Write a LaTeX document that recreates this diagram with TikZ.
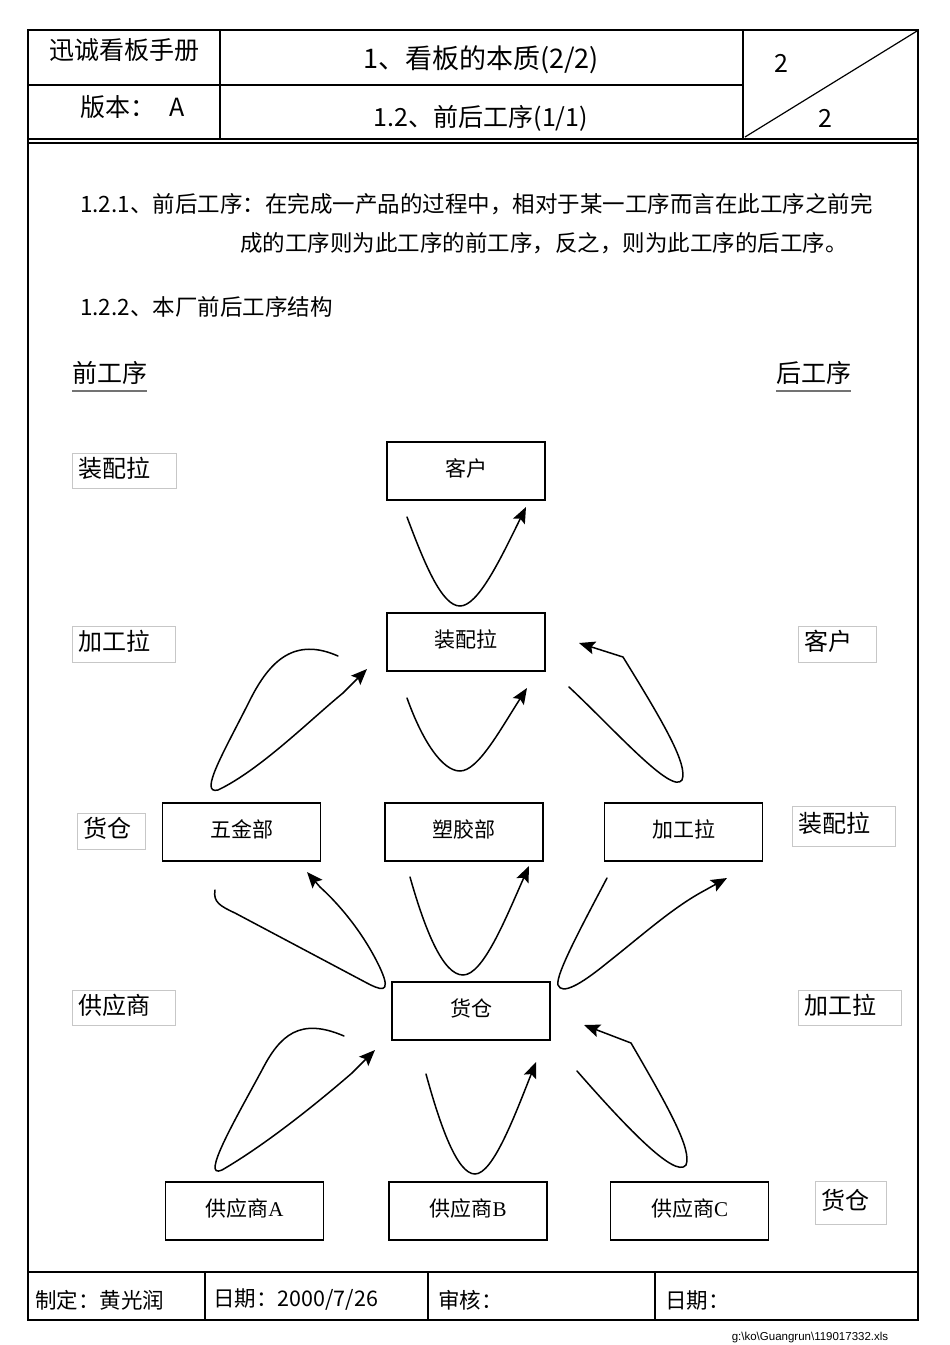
\documentclass[tikz,border=0pt]{standalone}
\usepackage{fontspec}
\setmainfont{Noto Sans CJK SC}
\newfontfamily\latinserif{Liberation Serif}
\newfontfamily\pathfont{Liberation Sans}
\usetikzlibrary{arrows.meta, positioning}

\tikzset{
  box/.style={rectangle, draw, line width=1.5pt, minimum width=158pt, minimum height=58pt, inner sep=0pt, text height=18pt, text depth=8pt, font=\fontsize{21}{21}\selectfont},
  side/.style={rectangle, draw=black!22, line width=0.8pt, anchor=north west, inner xsep=6pt, inner ysep=0pt, text height=21pt, text depth=8pt, align=left, font=\fontsize{24}{24}\selectfont},
  flow/.style={line width=1.5pt, line cap=round, -{Stealth[length=16pt,width=13pt,inset=3pt]}},
  frame/.style={line width=1.6pt},
  txt/.style={anchor=west, inner sep=0pt, font=\fontsize{22.5}{22.5}\selectfont},
  uline/.style={draw=black!55, line width=1.6pt}
}

\begin{document}
\begin{tikzpicture}[x=1pt, y=-1pt]
\useasboundingbox (0,0) rectangle (950,1345);

% form frame
\draw[frame] (28,30) rectangle (918,1320);
\draw[frame] (28,85) -- (743,85);
\draw[frame] (220,30) -- (220,139);
\draw[frame] (743,30) -- (743,139);
\draw[frame] (28,139) -- (918,139);
\draw[frame] (28,143) -- (918,143);
\draw[line width=1.2pt] (745,137) -- (917,31);
\draw[line width=2.6pt] (28,1272) -- (918,1272);
\draw[line width=2.6pt] (28,1320) -- (918,1320);
\foreach \x in {205,428,655}
  \draw[frame] (\x,1272) -- (\x,1320);

% header
\node[font=\fontsize{25}{25}\selectfont] (manual) at (124,50) {迅诚看板手册};
\node[font=\fontsize{27}{27}\selectfont] (title) at (481,60) {1、看板的本质(2/2)};
\node[txt, font=\fontsize{25}{25}\selectfont] (version) at (80,107) {版本：\hspace{14pt}A};
\node[font=\fontsize{25}{25}\selectfont] (subtitle) at (481,118) {1.2、前后工序(1/1)};
\node[font=\fontsize{25}{25}\selectfont] (page) at (781,63) {2};
\node[font=\fontsize{25}{25}\selectfont] (pages) at (825,118) {2};

% text
\node[txt] (def1) at (80,204) {1.2.1、前后工序：在完成一产品的过程中，相对于某一工序而言在此工序之前完};
\node[txt] (def2) at (240,243) {成的工序则为此工序的前工序，反之，则为此工序的后工序。};
\node[txt] (struct) at (80,307) {1.2.2、本厂前后工序结构};

\node[txt, font=\fontsize{25}{25}\selectfont] (pre) at (72,373) {前工序};
\node[txt, font=\fontsize{25}{25}\selectfont] (post) at (776,373) {后工序};
\draw[uline] ([yshift=-6pt]pre.south west) -- ([yshift=-6pt]pre.south east);
\draw[uline] ([yshift=-6pt]post.south west) -- ([yshift=-6pt]post.south east);

% side labels
\node[side, text width=92pt, minimum height=35pt] (pre1) at (72,453) {装配拉};
\node[side, text width=91pt, minimum height=36pt] (pre2) at (72,626) {加工拉};
\node[side, text width=56pt, minimum height=36pt] (pre3) at (77,813) {货仓};
\node[side, text width=91pt, minimum height=35pt] (pre4) at (72,990) {供应商};
\node[side, text width=66pt, minimum height=36pt] (post1) at (798,626) {客户};
\node[side, text width=91pt, minimum height=40pt] (post2) at (792,806) {装配拉};
\node[side, text width=91pt, minimum height=35pt] (post3) at (798,990) {加工拉};
\node[side, text width=59pt, minimum height=43pt] (post4) at (815,1181) {货仓};

% process boxes
\node[box] (kehu) at (466,471) {客户};
\node[box] (zpl) at (466,642) {装配拉};
\node[box] (sujiao) at (464,832) {塑胶部};
\node[box, left=63pt of sujiao] (wujin) {五金部};
\node[box, right=60pt of sujiao] (jgl) {加工拉};
\node[box] (cang) at (471,1011) {货仓};
\node[box] (gysB) at (468,1211) {供应商{\latinserif B}};
\node[box, left=64pt of gysB] (gysA) {供应商{\latinserif A}};
\node[box, right=62pt of gysB] (gysC) {供应商{\latinserif C}};

% curve ends
\coordinate (zpl-up) at (407,517);   \coordinate (kehu-in) at (526,507);
\coordinate (sj-up) at (407,698);    \coordinate (zpl-in1) at (527,688);
\coordinate (wj-up) at (338,656);    \coordinate (zpl-in2) at (367,669);
\coordinate (jg-up) at (569,687);    \coordinate (zpl-in3) at (579,643);
\coordinate (cang-up1) at (215,890); \coordinate (wj-in) at (307,872);
\coordinate (cang-up2) at (410,877); \coordinate (sj-in) at (529,866);
\coordinate (cang-up3) at (607,878); \coordinate (jg-in) at (727,878);
\coordinate (gA-up) at (344,1036);   \coordinate (cang-in1) at (375,1050);
\coordinate (gB-up) at (426,1074);   \coordinate (cang-in2) at (536,1062);
\coordinate (gC-up) at (577,1071);   \coordinate (cang-in3) at (584,1025);

% flows
\draw[flow] (zpl-up) .. controls (425,565) and (442,606) .. (460,606) .. controls (478,606) and (500,560) .. (kehu-in);
\draw[flow] (sj-up) .. controls (422,740) and (442,771) .. (460,771) .. controls (478,771) and (500,730) .. (zpl-in1);
\draw[flow] (wj-up) .. controls (295,637) and (270,660) .. (250,700) .. controls (225,750) and (198,795) .. (218,790) .. controls (260,770) and (310,720) .. (343,693) -- (zpl-in2);
\draw[flow] (jg-up) .. controls (615,730) and (672,795) .. (682,780) .. controls (688,765) and (665,725) .. (623,657) -- (zpl-in3);
\draw[flow] (cang-up1) .. controls (213,902) and (220,906) .. (235,913) -- (365,982) .. controls (380,990) and (392,995) .. (381,970) .. controls (365,935) and (340,905) .. (320,887) -- (wj-in);
\draw[flow] (cang-up2) .. controls (425,930) and (443,975) .. (463,975) .. controls (483,975) and (505,920) .. (sj-in);
\draw[flow] (cang-up3) .. controls (585,920) and (555,975) .. (558,985) .. controls (562,995) and (580,985) .. (607,963) .. controls (640,937) and (670,910) .. (700,893) -- (jg-in);
\draw[flow] (gA-up) .. controls (300,1017) and (280,1035) .. (262,1070) .. controls (235,1120) and (200,1180) .. (222,1170) .. controls (265,1145) and (315,1105) .. (352,1073) -- (cang-in1);
\draw[flow] (gB-up) .. controls (440,1125) and (457,1174) .. (475,1174) .. controls (493,1174) and (515,1115) .. (cang-in2);
\draw[flow] (gC-up) .. controls (620,1120) and (675,1180) .. (686,1165) .. controls (692,1150) and (670,1110) .. (631,1043) -- (cang-in3);

% footer
\node[txt, font=\fontsize{21.5}{21.5}\selectfont] (maker) at (35,1300) {制定：黄光润};
\node[txt, font=\fontsize{21.5}{21.5}\selectfont] (date1) at (213,1300) {日期：2000/7/26};
\node[txt, font=\fontsize{21.5}{21.5}\selectfont] (check) at (438,1300) {审核：};
\node[txt, font=\fontsize{21.5}{21.5}\selectfont] (date2) at (665,1300) {日期：};
\node[font=\pathfont\fontsize{11.5}{11.5}\selectfont, inner sep=0pt] (file) at (810,1338) {g:\textbackslash ko\textbackslash Guangrun\textbackslash 119017332.xls};
\end{tikzpicture}
\end{document}
